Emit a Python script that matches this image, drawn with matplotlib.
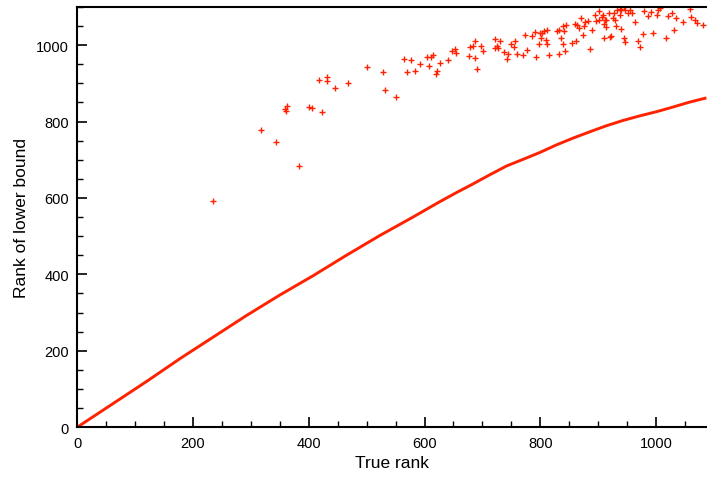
import numpy as np
import matplotlib
matplotlib.use('Agg')
import matplotlib.pyplot as plt
from matplotlib.ticker import MultipleLocator

# lower bound curve
curve_x = [0, 60, 120, 177, 235, 292, 350, 408, 465, 523, 580, 626, 655, 684, 713,
           742, 770, 799, 828, 857, 885, 914, 943, 972, 1001, 1029, 1058, 1087]
curve_y = [0, 60, 120, 179, 236, 292, 346, 397, 450, 502, 550, 590, 614, 637, 661,
           684, 701, 719, 739, 757, 773, 789, 803, 815, 826, 838, 851, 862]

# scattered points above the curve
pts_x = [234, 318, 343, 383, 359, 363, 360, 400, 406, 423, 417, 431, 432, 445, 467,
         500, 528, 531, 550, 565, 577, 569, 584, 592, 605, 612, 615, 608, 626, 622,
         619, 641, 648, 653, 655, 676, 678, 683, 688, 697, 687, 701, 691,
         722, 730, 722, 727, 726, 737, 744, 743, 750, 754, 756, 759, 770, 777, 773,
         785, 791, 793, 797, 800, 801, 803, 806, 809, 811, 811, 815, 828, 832, 840,
         841, 844, 836, 839, 843, 832, 855, 862, 860, 863, 867, 870, 873, 876, 878,
         882, 885, 889, 894, 896, 901, 901, 906, 908, 910, 912, 910, 914, 914, 919,
         921, 923, 926, 927, 929, 930, 933, 937, 940, 940, 945, 946, 947, 952, 955,
         958, 963, 968, 972, 977, 980, 986, 991, 995, 1002, 1003, 1006, 1017, 1020,
         1028, 1031, 1035, 1047, 1058, 1060, 1068, 1070, 1081, 938, 945]
pts_y = [592, 779, 746, 685, 832, 841, 827, 839, 835, 824, 908, 917, 905, 888, 900,
         942, 931, 883, 865, 964, 960, 929, 932, 950, 968, 969, 973, 945, 954, 933,
         924, 962, 986, 990, 979, 971, 995, 999, 1011, 999, 966, 985, 937,
         1016, 1010, 992, 993, 997, 983, 978, 965, 1003, 994, 1012, 977, 975, 988, 1027,
         1025, 1034, 968, 1003, 1031, 1020, 1031, 1036, 1014, 1039, 1003, 974, 1037, 1041, 1050,
         1036, 1052, 1018, 1003, 984, 976, 1006, 1012, 1055, 1054, 1046, 1071, 1026, 1049, 1060,
         1064, 990, 1039, 1079, 1063, 1089, 1065, 1073, 1079, 1018, 1067, 1056, 1067, 1048, 1084,
         1022, 1024, 1071, 1085, 1067, 1050, 1092, 1078, 1043, 1091, 1019, 1008, 1092, 1085, 1092,
         1084, 1062, 1010, 996, 1028, 1089, 1076, 1088, 1031, 1080, 1093, 1097, 1018, 1076,
         1083, 1041, 1071, 1061, 1094, 1074, 1067, 1059, 1052, 1096, 1099]

red = '#ff2200'

plt.rcParams['font.family'] = ['Liberation Sans', 'DejaVu Sans']
fig = plt.figure(figsize=(7.07, 4.81), dpi=100)
ax = fig.add_axes([0.1093, 0.1098, 0.8907, 0.8736])

ax.plot(curve_x, curve_y, color=red, lw=2.1, solid_capstyle='butt')
ax.plot(pts_x, pts_y, '+', color=red, ms=3.8, mew=1.0)

ax.set_xlim(0, 1088)
ax.set_ylim(0, 1100)
ax.xaxis.set_major_locator(MultipleLocator(200))
ax.xaxis.set_minor_locator(MultipleLocator(50))
ax.yaxis.set_major_locator(MultipleLocator(200))
ax.yaxis.set_minor_locator(MultipleLocator(50))
ax.tick_params(which='major', direction='in', length=7.5, width=1.2, labelsize=10.5, pad=6)
ax.tick_params(which='minor', direction='in', length=4, width=1.0)
ax.spines['right'].set_visible(False)
for s in ['left', 'bottom', 'top']:
    ax.spines[s].set_linewidth(1.5)

ax.set_xlabel('True rank', fontsize=12.5, labelpad=4)
ax.set_ylabel('Rank of lower bound', fontsize=12.5, labelpad=5)

fig.savefig('out.png', dpi=100)
